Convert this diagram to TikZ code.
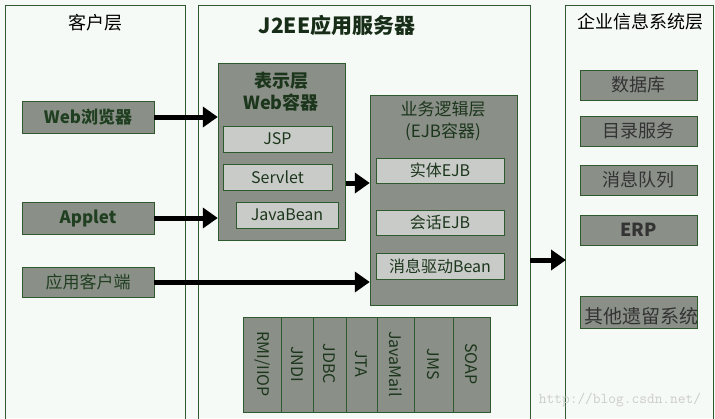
\documentclass[tikz,border=0pt]{standalone}
\usepackage{fontspec}
\setmainfont{Noto Sans CJK SC}
\usetikzlibrary{arrows.meta}
\definecolor{bg}{HTML}{F6FAF6}
\definecolor{dg}{HTML}{2E5A2E}
\definecolor{box}{HTML}{8A8F88}
\definecolor{lbox}{HTML}{C9CBC9}
\begin{document}
\begin{tikzpicture}[x=1pt,y=-1pt,
 panel/.style={draw=dg,line width=0.8pt},
 cbox/.style={draw=dg,fill=box,line width=0.8pt,text=dg!70!black,font=\bfseries\fontsize{17}{17}\selectfont},
 ibox/.style={draw=dg,fill=lbox,line width=0.8pt,text=dg!60!black,font=\fontsize{16}{16}\selectfont},
 arr/.style={line width=5pt,-{Triangle[length=15pt,width=20pt]}},
 ttl/.style={font=\fontsize{18}{18}\selectfont,text=black}]
\useasboundingbox (0,0) rectangle (715,418);
\fill[bg] (0,0) rectangle (715,418);
% panels
\draw[panel] (5,419) -- (5,5) -- (185,5) -- (185,419);
\draw[panel] (198,419) -- (198,5) -- (530,5) -- (530,419);
\draw[panel] (565,419) -- (565,5) -- (713,5) -- (713,419);
\node[ttl] (t1) at (95,23) {客户层};
\node[ttl,font=\bfseries\fontsize{21}{21}\selectfont,text=dg!50!black] (t2) at (337,25) {J2EE应用服务器};
\node[ttl] (t3) at (640,22) {企业信息系统层};
% clients
\node[cbox,minimum width=132,minimum height=32,inner sep=0] (web) at (88,117) {Web浏览器};
\node[cbox,minimum width=132,minimum height=32,inner sep=0] (applet) at (88,218) {Applet};
\node[cbox,minimum width=132,minimum height=30,inner sep=0,font=\fontsize{17}{17}\selectfont] (app) at (88,282) {应用客户端};
% web container
\draw[draw=dg,fill=box,line width=0.8pt] (218,63) rectangle (345,240);
\node (webc) at (281.5,151.5) [minimum width=127,minimum height=177,inner sep=0] {};
\node[text=dg!60!black,font=\bfseries\fontsize{18}{22}\selectfont,align=center] (webt) at (281,92) {表示层\\Web容器};
\node[ibox,minimum width=109,minimum height=26,inner sep=0] (jsp) at (277.5,139) {JSP};
\node[ibox,minimum width=109,minimum height=26,inner sep=0] (servlet) at (277.5,177) {Servlet};
\node[ibox,minimum width=102,minimum height=26,inner sep=0] (jb) at (287,215) {JavaBean};
% EJB container
\draw[draw=dg,fill=box,line width=0.8pt] (370,95) rectangle (517,305);
\node (ejb) at (443.5,200) [minimum width=147,minimum height=210,inner sep=0] {};
\node[text=dg!60!black,font=\fontsize{17}{22}\selectfont,align=center] (ejbt) at (443,121) {业务逻辑层\\(EJB容器)};
\node[ibox,minimum width=128,minimum height=25,inner sep=0] (e1) at (440,170.5) {实体EJB};
\node[ibox,minimum width=128,minimum height=25,inner sep=0] (e2) at (440,222.5) {会话EJB};
\node[ibox,minimum width=128,minimum height=26,inner sep=0] (e3) at (440,266) {消息驱动Bean};
% services
\draw[draw=dg,fill=box,line width=0.8pt] (243,317) rectangle (490,412);
\foreach \x in {281,313,346,377,414,453} \draw[dg,line width=0.8pt] (\x,317) -- (\x,412);
\foreach \n/\x/\t in {s1/262/{RMI/IIOP},s2/297/JNDI,s3/329.5/JDBC,s4/361.5/JTA,s5/395.5/JavaMail,s6/433.5/JMS,s7/471.5/SOAP}
  \node[rotate=-90,text=dg!60!black,font=\fontsize{16}{16}\selectfont] (\n) at (\x,364) {\t};
% EIS
\foreach \n/\y/\t in {d1/85/数据库,d2/131/目录服务,d3/180/消息队列}
  \node[cbox,font=\fontsize{18}{18}\selectfont,minimum width=117,minimum height=30,inner sep=0,text=black!80] (\n) at (638.5,\y) {\t};
\node[cbox,font=\bfseries\fontsize{18}{18}\selectfont,minimum width=117,minimum height=30,inner sep=0,text=black!80] (d4) at (638.5,230) {ERP};
\node[cbox,minimum width=117,minimum height=32,inner sep=0] (d5) at (638.5,312) {};
\node[font=\fontsize{19}{19}\selectfont,text=black!80] (d5t) at (641,316) {其他遗留系统};
% arrows
\coordinate (eis) at (566,260);
\draw[arr] (web.east) -- (web.east -| webc.west);
\draw[arr] (applet.east) -- (applet.east -| webc.west);
\draw[arr] (app.east) -- (app.east -| ejb.west);
\draw[arr] (346,183) -- (ejb.west |- 0,183);
\draw[arr] (530,260) -- (eis);
\node[text=gray!40,font=\fontsize{15}{15}\selectfont\ttfamily] (wm) at (620,400) {http://blog.csdn.net/};
\end{tikzpicture}
\end{document}
